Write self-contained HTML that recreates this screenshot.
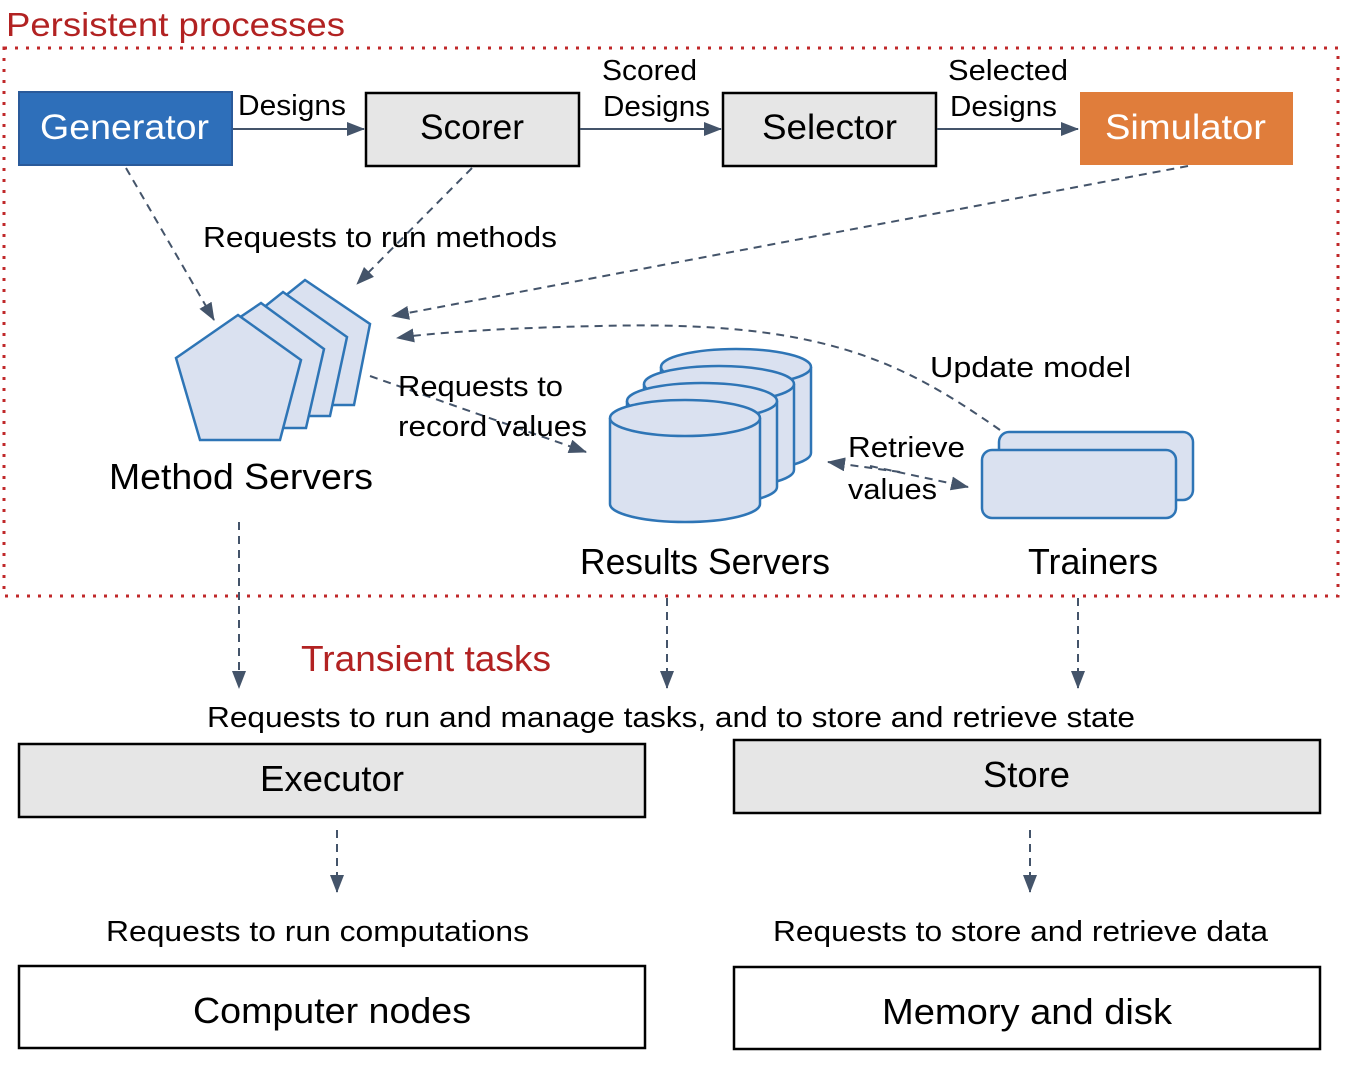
<!DOCTYPE html>
<html><head><meta charset="utf-8"><style>
body{margin:0;background:#fff}
svg{display:block}
text{font-family:"Liberation Sans","DejaVu Sans",sans-serif;fill:#000}
</style></head><body>
<svg width="1348" height="1076" viewBox="0 0 1348 1076" xmlns="http://www.w3.org/2000/svg">
<defs>
<marker id="b" markerWidth="18" markerHeight="14" refX="17" refY="7" orient="auto" markerUnits="userSpaceOnUse" viewBox="0 0 18 14">
<path d="M0,0 L18,7 L0,14 z" fill="#44546a"/></marker>
</defs>
<g lengthAdjust="spacingAndGlyphs">
<text x="6" y="36" font-size="33" textLength="339" lengthAdjust="spacingAndGlyphs" style="fill:#b22222">Persistent processes</text>
</g>
<rect x="4" y="48" width="1334" height="548" fill="none" stroke="#c0282a" stroke-width="3" stroke-dasharray="3,8"/>
<rect x="19" y="92" width="213" height="73" fill="#2e6fba" stroke="#2a5a9a" stroke-width="2"/>
<text x="40" y="139" font-size="35" textLength="169" lengthAdjust="spacingAndGlyphs" style="fill:#fff">Generator</text>
<rect x="366" y="93" width="213" height="73" fill="#e6e6e6" stroke="#000" stroke-width="2.5"/>
<text x="420" y="139" font-size="35" textLength="104" lengthAdjust="spacingAndGlyphs">Scorer</text>
<rect x="723" y="93" width="213" height="73" fill="#e6e6e6" stroke="#000" stroke-width="2.5"/>
<text x="762" y="139" font-size="35" textLength="135" lengthAdjust="spacingAndGlyphs">Selector</text>
<rect x="1080" y="92" width="213" height="73" fill="#e07d3b"/>
<text x="1105" y="139" font-size="35" textLength="161" lengthAdjust="spacingAndGlyphs" style="fill:#fff">Simulator</text>
<g stroke="#44546a" stroke-width="2" fill="none">
<line x1="233" y1="129" x2="364" y2="129" marker-end="url(#b)"/>
<line x1="580" y1="129" x2="721" y2="129" marker-end="url(#b)"/>
<line x1="937" y1="129" x2="1078" y2="129" marker-end="url(#b)"/>
</g>
<text x="238" y="115" font-size="29" textLength="108" lengthAdjust="spacingAndGlyphs">Designs</text>
<text x="602" y="80" font-size="29" textLength="95" lengthAdjust="spacingAndGlyphs">Scored</text>
<text x="603" y="116" font-size="29" textLength="107" lengthAdjust="spacingAndGlyphs">Designs</text>
<text x="948" y="80" font-size="29" textLength="120" lengthAdjust="spacingAndGlyphs">Selected</text>
<text x="950" y="116" font-size="29" textLength="107" lengthAdjust="spacingAndGlyphs">Designs</text>
<g stroke="#44546a" stroke-width="2" fill="none" stroke-dasharray="8,6">
<line x1="126" y1="168" x2="214" y2="320" marker-end="url(#b)"/>
<line x1="472" y1="168" x2="357" y2="284" marker-end="url(#b)"/>
<line x1="1188" y1="166" x2="392" y2="316" marker-end="url(#b)"/>
<path d="M1000,430 C900,360 820,320 600,326 C500,328 430,333 397,338" marker-end="url(#b)"/>
<line x1="370" y1="376" x2="586" y2="452" marker-end="url(#b)"/>
<line x1="870" y1="466" x2="968" y2="487" marker-end="url(#b)"/>
<line x1="900" y1="472" x2="828" y2="462" marker-end="url(#b)"/>
<line x1="239" y1="522" x2="239" y2="688" marker-end="url(#b)"/>
<line x1="667" y1="598" x2="667" y2="688" marker-end="url(#b)"/>
<line x1="1078" y1="598" x2="1078" y2="688" marker-end="url(#b)"/>
<line x1="337" y1="830" x2="337" y2="892" marker-end="url(#b)"/>
<line x1="1030" y1="830" x2="1030" y2="892" marker-end="url(#b)"/>
</g>
<text x="203" y="247" font-size="29" textLength="354" lengthAdjust="spacingAndGlyphs">Requests to run methods</text>
<g fill="#dae1f0" stroke="#2e75b6" stroke-width="2.5">
<polygon points="305,280 370,324 354,405 330,405 280,300"/>
<polygon points="283,292 347,337 330,416 306,416 258,312"/>
<polygon points="261,303 324,349 306,428 282,428 236,320"/>
<polygon points="238,315 301,360 280,440 200,440 176,358"/>
</g>
<text x="109" y="489" font-size="36" textLength="264" lengthAdjust="spacingAndGlyphs">Method Servers</text>
<text x="398" y="396" font-size="29" textLength="165" lengthAdjust="spacingAndGlyphs">Requests to</text>
<text x="398" y="436" font-size="29" textLength="189" lengthAdjust="spacingAndGlyphs">record values</text>
<g fill="#dae1f0" stroke="#2e75b6" stroke-width="2.5">
<g transform="translate(51,-51)"><path d="M610,418 v86 a75,18 0 0 0 150,0 v-86"/><ellipse cx="685" cy="418" rx="75" ry="18"/></g>
<g transform="translate(34,-34)"><path d="M610,418 v86 a75,18 0 0 0 150,0 v-86"/><ellipse cx="685" cy="418" rx="75" ry="18"/></g>
<g transform="translate(17,-17)"><path d="M610,418 v86 a75,18 0 0 0 150,0 v-86"/><ellipse cx="685" cy="418" rx="75" ry="18"/></g>
<path d="M610,418 v86 a75,18 0 0 0 150,0 v-86"/><ellipse cx="685" cy="418" rx="75" ry="18"/>
</g>
<text x="580" y="574" font-size="36" textLength="250" lengthAdjust="spacingAndGlyphs">Results Servers</text>
<g fill="#dae1f0" stroke="#2e75b6" stroke-width="2.5">
<rect x="999" y="432" width="194" height="68" rx="10"/>
<rect x="982" y="450" width="194" height="68" rx="10"/>
</g>
<text x="1028" y="574" font-size="36" textLength="130" lengthAdjust="spacingAndGlyphs">Trainers</text>
<text x="930" y="377" font-size="29" textLength="201" lengthAdjust="spacingAndGlyphs">Update model</text>
<text x="848" y="457" font-size="29" textLength="117" lengthAdjust="spacingAndGlyphs">Retrieve</text>
<text x="848" y="499" font-size="29" textLength="89" lengthAdjust="spacingAndGlyphs">values</text>
<text x="301" y="671" font-size="36" textLength="250" lengthAdjust="spacingAndGlyphs" style="fill:#b22222">Transient tasks</text>
<text x="207" y="727" font-size="29" textLength="928" lengthAdjust="spacingAndGlyphs">Requests to run and manage tasks, and to store and retrieve state</text>
<rect x="19" y="744" width="626" height="73" fill="#e6e6e6" stroke="#000" stroke-width="2.5"/>
<text x="260" y="791" font-size="36" textLength="144" lengthAdjust="spacingAndGlyphs">Executor</text>
<rect x="734" y="740" width="586" height="73" fill="#e6e6e6" stroke="#000" stroke-width="2.5"/>
<text x="983" y="787" font-size="36" textLength="87" lengthAdjust="spacingAndGlyphs">Store</text>
<text x="106" y="941" font-size="29" textLength="423" lengthAdjust="spacingAndGlyphs">Requests to run computations</text>
<text x="773" y="941" font-size="29" textLength="495" lengthAdjust="spacingAndGlyphs">Requests to store and retrieve data</text>
<rect x="19" y="966" width="626" height="82" fill="#fff" stroke="#000" stroke-width="2.5"/>
<text x="193" y="1023" font-size="36" textLength="278" lengthAdjust="spacingAndGlyphs">Computer nodes</text>
<rect x="734" y="967" width="586" height="82" fill="#fff" stroke="#000" stroke-width="2.5"/>
<text x="882" y="1024" font-size="36" textLength="290" lengthAdjust="spacingAndGlyphs">Memory and disk</text>
</svg>
</body></html>
